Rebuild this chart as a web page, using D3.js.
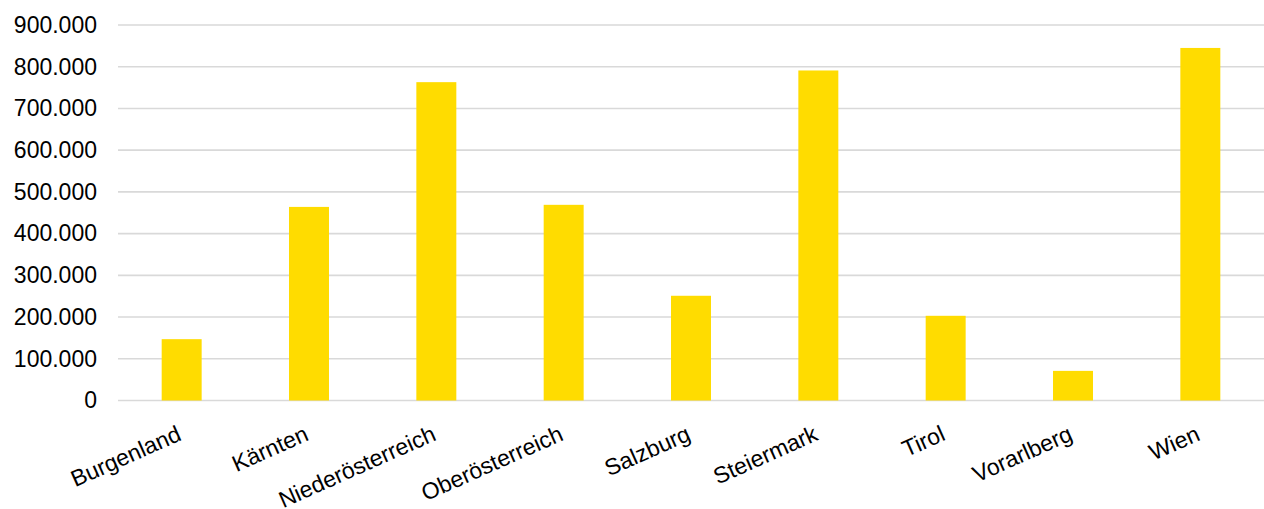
<!DOCTYPE html>
<html>
<head>
<meta charset="utf-8">
<script src="https://cdn.jsdelivr.net/npm/d3@7"></script>
<style>
  body { margin: 0; background: #fff; }
  text { font-family: "Liberation Sans", Arial, sans-serif; }
</style>
</head>
<body>
<div id="chart"></div>
<script>
const w = 1264
const h = 509
const margin = { top: 25, right: 0, bottom: 108.5, left: 118 }

// Bundesländer, to be bar categories
const states = [ "Burgenland", "Kärnten", "Niederösterreich", "Oberösterreich", "Salzburg", "Steiermark", "Tirol", "Vorarlberg", "Wien" ]
// Values
const values = [ 147000, 464000, 763000, 469000, 251000, 791000, 203000, 71000, 845000 ]
// Y tick values
const yTicks = [ 0, 100000, 200000, 300000, 400000, 500000, 600000, 700000, 800000, 900000 ]

const svg = d3.select("#chart")
              .append("svg")
                .attr("width", w)
                .attr("height", h)

// German style number format: 900.000
const de = d3.formatLocale({ decimal: ",", thousands: ".", grouping: [3], currency: ["", " €"] })
const fmt = de.format(",.0f")

const xScale = d3.scaleBand()
                  .domain(states)
                  .range([margin.left, w - margin.right])
                  .paddingInner(0.686)
                  .paddingOuter(0.343)

const yScale = d3.scaleLinear()
                  .domain([0, 900000])
                  .range([h - margin.bottom, margin.top])

// Gridlines
svg.append("g")
    .selectAll("line")
    .data(yTicks)
    .join("line")
      .attr("x1", margin.left)
      .attr("x2", w - margin.right)
      .attr("y1", d => yScale(d))
      .attr("y2", d => yScale(d))
      .attr("stroke", "#d9d9d9")
      .attr("stroke-width", 1.6)

// Y axis labels
const yAxis = svg.append("g")
                  .attr("transform", `translate(${margin.left}, 0)`)
                  .call(d3.axisLeft(yScale).tickValues(yTicks).tickFormat(fmt).tickSize(0).tickPadding(21))
yAxis.select(".domain").remove()
yAxis.selectAll("text")
      .attr("font-size", 23)
      .attr("fill", "#000")
      .style("font-family", "'Liberation Sans', Arial, sans-serif")

// Bars
svg.append("g")
    .selectAll("rect")
    .data(values)
    .join("rect")
      .attr("x", (d, i) => xScale(states[i]))
      .attr("y", d => yScale(d))
      .attr("width", xScale.bandwidth())
      .attr("height", d => yScale(0) - yScale(d))
      .attr("fill", "#ffdc00")

// X axis labels, rotated
const xAxis = svg.append("g")
                  .attr("transform", `translate(0, ${h - margin.bottom})`)
                  .call(d3.axisBottom(xScale).tickSize(0).tickPadding(0))
xAxis.select(".domain").remove()
xAxis.selectAll("text")
      .attr("font-size", 23)
      .attr("fill", "#000")
      .style("font-family", "'Liberation Sans', Arial, sans-serif")
      .attr("text-anchor", "end")
      .attr("dy", 0)
      .attr("y", 0)
      .attr("transform", "translate(1, 39) rotate(-24)")
</script>
</body>
</html>
